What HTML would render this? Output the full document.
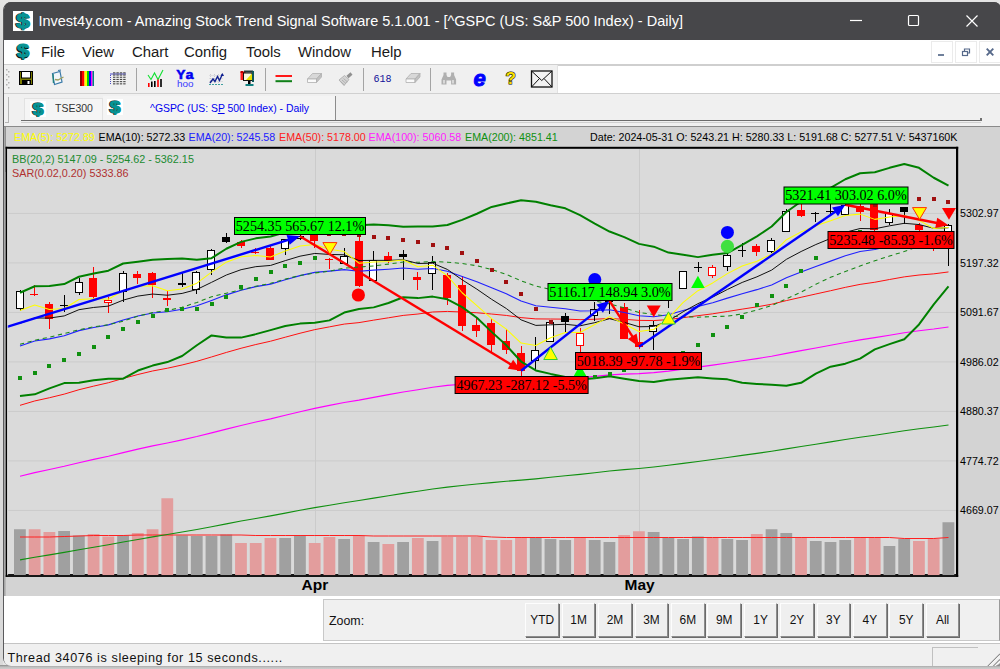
<!DOCTYPE html><html><head><meta charset="utf-8"><title>Invest4y</title><style>
*{box-sizing:border-box;margin:0;padding:0}
html,body{width:1000px;height:669px;overflow:hidden;background:#e4e4e4;font-family:"Liberation Sans",sans-serif;}
#win{position:absolute;left:3px;top:2px;width:999px;height:664px;border-radius:8px;background:#fff;overflow:hidden;border:1px solid #5b5b5d;}
#page{position:absolute;left:0;top:0;width:1000px;height:669px;overflow:hidden}
.abs{position:absolute}
.dl{position:absolute}
#title{left:4px;top:2px;width:997px;height:37.5px;background:#47474a;}
#ttxt{left:38.4px;top:10.4px;color:#fff;font-size:14.5px;white-space:nowrap;line-height:22px;letter-spacing:0px}
.menu{position:absolute;top:42.4px;font-size:14.9px;color:#1a1a1a;line-height:20px;white-space:nowrap}
.sep{position:absolute;background:#dcdcdc;height:1px;left:4px;width:996px}
.tb{position:absolute}
.vsep{position:absolute;width:1px;background:#a8a8a8}
.zb{position:absolute;top:602.6px;width:33.6px;height:34px;background:#efefef;border:1px solid;border-color:#fdfdfd #8c8c8c #8c8c8c #fdfdfd;box-shadow:1px 1px 0 #6a6a6a;font-size:11.9px;line-height:32px;text-align:center;color:#111}
</style></head><body><div id="page">
<div class="abs" style="left:0;top:0px;width:3px;height:669px;background:linear-gradient(#e4e4e4,#dadada 60px)"></div><div class="abs" style="left:0;top:665px;width:1000px;height:4px;background:linear-gradient(#8a8a8a,#c0c0c0 2px,#cdcdcd)"></div>
<div id="win"></div>
<div class="abs" id="title" style="border-radius:7px 7px 0 0"></div>
<svg class="dl" width="20" height="20" viewBox="0 0 20 20" style="left:13px;top:11px"><rect width="20" height="20" fill="#ffffff"/><g font-family='"Liberation Sans", sans-serif' font-weight="bold" font-size="20.5" text-anchor="middle"><text x="7.7" y="17.4" transform="scale(1.2,1)" fill="#061818" stroke="#061818" stroke-width="1.3">$</text><text x="8.5" y="16.9" transform="scale(1.2,1)" fill="#089494" stroke="#089494" stroke-width="0.9">$</text></g></svg>
<div class="abs" id="ttxt">Invest4y.com - Amazing Stock Trend Signal Software 5.1.001 - [^GSPC (US: S&amp;P 500 Index) - Daily]</div>
<svg class="abs" style="left:840px;top:2px" width="160" height="37" viewBox="0 0 160 37"><g stroke="#fff" stroke-width="1.2" fill="none"><line x1="10" y1="18.5" x2="22" y2="18.5"/><rect x="68.5" y="13.5" width="10" height="10" rx="1"/><path d="M126.5 13.5l11 11M137.5 13.5l-11 11"/></g></svg>
<svg class="dl" width="18" height="18" viewBox="0 0 20 20" style="left:14px;top:42px"><rect width="20" height="20" fill="#ffffff"/><g font-family='"Liberation Sans", sans-serif' font-weight="bold" font-size="20.5" text-anchor="middle"><text x="7.7" y="17.4" transform="scale(1.2,1)" fill="#061818" stroke="#061818" stroke-width="1.3">$</text><text x="8.5" y="16.9" transform="scale(1.2,1)" fill="#089494" stroke="#089494" stroke-width="0.9">$</text></g></svg>
<div class="menu" style="left:41px">File</div>
<div class="menu" style="left:82px">View</div>
<div class="menu" style="left:132px">Chart</div>
<div class="menu" style="left:184px">Config</div>
<div class="menu" style="left:246px">Tools</div>
<div class="menu" style="left:298px">Window</div>
<div class="menu" style="left:371px">Help</div>
<svg class="abs" style="left:928px;top:40px" width="72" height="24" viewBox="0 0 72 24"><g fill="#fff" stroke="#ebebeb"><rect x="3.5" y="1.5" width="21" height="21"/><rect x="27.5" y="1.5" width="21" height="21"/><rect x="51.5" y="1.5" width="21" height="21"/></g><g stroke="#56698a" stroke-width="1.7" fill="none"><line x1="10" y1="15" x2="16" y2="15"/><rect x="34.5" y="11.5" width="5" height="4" stroke-width="1.2"/><path d="M36.5 11v-2h5v4h-2" stroke-width="1.2"/><path d="M58.7 8.7l6.6 6.6M65.300 8.7l-6.6 6.6" stroke-width="1.9"/></g></svg>
<div class="sep" style="top:64px;height:1.5px;background:#cfcfcf"></div>
<div class="abs" style="left:4px;top:65px;width:554px;height:28px;background:#f0f0f0;border-right:1px solid #e2e2e2"></div>
<div class="sep" style="top:93px;background:#d0d0d0"></div>
<div class="abs" style="left:4px;top:94px;width:996px;height:33px;background:#f0f0f0"></div>
<svg class="abs" style="left:5px;top:67px" width="6" height="24"><g fill="#b0b0b0"><rect x="1" y="2" width="1.5" height="1.5"/><rect x="3" y="4" width="1.5" height="1.5"/><rect x="1" y="7" width="1.5" height="1.5"/><rect x="3" y="9" width="1.5" height="1.5"/><rect x="1" y="12" width="1.5" height="1.5"/><rect x="3" y="15" width="1.5" height="1.5"/><rect x="1" y="17" width="1.5" height="1.5"/><rect x="3" y="20" width="1.5" height="1.5"/></g></svg>

<svg class="abs" style="left:0px;top:65px" width="560" height="28" viewBox="0 65 560 28">
<!-- save (19..33, 71..85) -->
<g><rect x="19" y="71" width="14" height="14" fill="#000"/><rect x="20" y="72" width="12" height="12" fill="#7c7c00"/><rect x="21.5" y="71.5" width="9" height="6.5" fill="#fff" stroke="#000" stroke-width="1"/><rect x="22" y="80" width="9" height="5" fill="#000"/><rect x="27.5" y="81" width="2" height="3" fill="#fff"/></g>
<!-- doc (50..63) -->
<g><path d="M52.5 73.5l7.5-2 2 10.5-7.5 2.5z" fill="#f2f6fa" stroke="#3a7aa8" stroke-width="1.2"/><path d="M53 74l0.5 9" stroke="#208080" stroke-width="1.4"/><path d="M55 79.5l3 0.5 5.5-3" stroke="#a0a060" stroke-width="1.3" fill="none"/><path d="M58 70.5l3-0.5" stroke="#3a7aa8" stroke-width="1.2"/></g>
<!-- colours (80..94, 71..86) -->
<g><rect x="80" y="71" width="2" height="15" fill="#900000"/><rect x="82" y="71" width="2.5" height="15" fill="#ff0000"/><rect x="84.5" y="71" width="2.5" height="15" fill="#ffff00"/><rect x="87" y="71" width="2" height="15" fill="#00d000"/><rect x="89" y="71" width="2" height="15" fill="#0000ff"/><rect x="91" y="71" width="1.5" height="15" fill="#ff00ff"/><rect x="92.5" y="71" width="1.5" height="15" fill="#008080"/></g>
<!-- grid (110..126, 72..85) -->
<g><rect x="110" y="73.5" width="16" height="1" fill="#4848c8"/><path d="M110.5 75v10" stroke="#4848c8" stroke-dasharray="1 1"/><rect x="113.0" y="72.3" width="2.4" height="1.1" fill="#484848"/><rect x="116.4" y="72.3" width="2.4" height="1.1" fill="#484848"/><rect x="119.8" y="72.3" width="2.4" height="1.1" fill="#484848"/><rect x="123.2" y="72.3" width="2.4" height="1.1" fill="#484848"/><rect x="113.0" y="74.5" width="2.4" height="1.1" fill="#484848"/><rect x="116.4" y="74.5" width="2.4" height="1.1" fill="#484848"/><rect x="119.8" y="74.5" width="2.4" height="1.1" fill="#484848"/><rect x="123.2" y="74.5" width="2.4" height="1.1" fill="#484848"/><rect x="113.0" y="76.7" width="2.4" height="1.1" fill="#484848"/><rect x="116.4" y="76.7" width="2.4" height="1.1" fill="#484848"/><rect x="119.8" y="76.7" width="2.4" height="1.1" fill="#484848"/><rect x="123.2" y="76.7" width="2.4" height="1.1" fill="#484848"/><rect x="113.0" y="78.89999999999999" width="2.4" height="1.1" fill="#484848"/><rect x="116.4" y="78.89999999999999" width="2.4" height="1.1" fill="#484848"/><rect x="119.8" y="78.89999999999999" width="2.4" height="1.1" fill="#484848"/><rect x="123.2" y="78.89999999999999" width="2.4" height="1.1" fill="#484848"/><rect x="113.0" y="81.1" width="2.4" height="1.1" fill="#484848"/><rect x="116.4" y="81.1" width="2.4" height="1.1" fill="#484848"/><rect x="119.8" y="81.1" width="2.4" height="1.1" fill="#484848"/><rect x="123.2" y="81.1" width="2.4" height="1.1" fill="#484848"/><rect x="113.0" y="83.3" width="2.4" height="1.1" fill="#484848"/><rect x="116.4" y="83.3" width="2.4" height="1.1" fill="#484848"/><rect x="119.8" y="83.3" width="2.4" height="1.1" fill="#484848"/><rect x="123.2" y="83.3" width="2.4" height="1.1" fill="#484848"/></g>
<line x1="136.5" y1="68" x2="136.5" y2="91" stroke="#a4a4a4"/>
<!-- chart (147..163, 70..87) -->
<g><path d="M148 75l3 4.5 3.5-6.5 3.5 6.5 5-9.5" stroke="#10e030" stroke-width="1.1" fill="none"/><rect x="148" y="83" width="1.6" height="4" fill="#f00"/><rect x="151" y="81.5" width="1.6" height="5.5" fill="#000"/><rect x="154" y="81" width="1.6" height="6" fill="#000"/><rect x="157.2" y="79.5" width="1.6" height="7.5" fill="#f00"/><rect x="160.2" y="79" width="1.6" height="8" fill="#000"/></g>
<!-- Yahoo -->
<g fill="#0000f0"><text x="176.5" y="79" font-family='"Liberation Mono", monospace' font-size="12.5" font-weight="bold" textLength="17.5" lengthAdjust="spacingAndGlyphs" stroke="#0000f0" stroke-width="0.5">Ya</text><text x="177" y="87" font-family='"Liberation Sans", sans-serif' font-size="9.5" fill="#3838ff" textLength="16.5" lengthAdjust="spacingAndGlyphs">hoo</text></g>
<!-- mini chart (209..224, 73..85) -->
<g><path d="M209.5 75.5h13M209.5 78.5h13M209.5 81.5h13M210.5 74v10M214.5 74v10M218.5 74v10" stroke="#c0c0c8" stroke-width="0.8" stroke-dasharray="1 1"/><path d="M209 84.5h15" stroke="#40a0a0" stroke-dasharray="2 1"/><path d="M210 83l3-4 2 2.5 2.5-5 2 4 3-6.5" stroke="#102090" stroke-width="1.4" fill="none"/><path d="M220.5 76l2-3 1.5 3z" fill="#102090"/></g>
<!-- monitor (240..254, 70..86.5) -->
<g><rect x="240.5" y="72" width="5" height="8" fill="#ff2020"/><rect x="240.5" y="71" width="3" height="2" fill="#c00000"/><rect x="244" y="70.5" width="9" height="2" fill="#203838"/><rect x="243.5" y="73" width="8.5" height="7.5" fill="#f8f8e0" stroke="#000" stroke-width="0.9"/><path d="M246 80l6-6.5v6.5z" fill="#e8e000"/><rect x="252" y="71" width="2" height="11" fill="#105858"/><rect x="248" y="81" width="2.5" height="3" fill="#000"/><rect x="245.5" y="84" width="8" height="2" fill="#108080"/></g>
<line x1="265.5" y1="68" x2="265.5" y2="91" stroke="#a4a4a4"/>
<!-- lines -->
<g><rect x="275.5" y="75" width="16.5" height="2" fill="#ff1818"/><rect x="275.5" y="80.2" width="16.5" height="2" fill="#108018"/></g>
<!-- eraser (307..321.6, 72.4..82.8) -->
<g id="er"><path d="M307.5 79l5-5.5h9l-5 5.5z" fill="#d8d8d8" stroke="#b0b0b0" stroke-width="0.8"/><path d="M307.5 79v3.5h9v-3.5z" fill="#fafafa" stroke="#b0b0b0" stroke-width="0.8"/><path d="M316.5 82.5l5-5.5v-3.5l-5 5.5z" fill="#c0c0c0" stroke="#b0b0b0" stroke-width="0.8"/></g>
<!-- brush (338..353.6, 72.4..86) -->
<g><path d="M339 80l5.5-4.5 4.5 4-5 6z" fill="#d4d4d4" stroke="#a8a8a8" stroke-width="0.8"/><path d="M340.5 81.5l4 3.5M342 80l4 3.5M343.5 78.5l4 3.5" stroke="#a0a0a0" stroke-width="0.7"/><path d="M347.5 77l4-3.5" stroke="#909090" stroke-width="3"/></g>
<line x1="363.5" y1="68" x2="363.5" y2="91" stroke="#a4a4a4"/>
<text x="373.5" y="82.3" font-family='"Liberation Mono", monospace' font-size="10" fill="#101098">618</text>
<use href="#er" x="98.5" y="0"/>
<line x1="430.5" y1="68" x2="430.5" y2="91" stroke="#a4a4a4"/>
<!-- binoculars (441..456.4, 72.4..84.4) -->
<g fill="#b0b0b0"><path d="M441.5 84.5v-5l2-4.5v-2.5h3v2.5l1 2h2.6l1-2v-2.5h3v2.5l2 4.5v5h-5v-4h-4.6v4z"/></g><g fill="#d8d8d8"><rect x="443" y="80" width="2" height="3.5"/><rect x="452" y="80" width="2" height="3.5"/></g>
<!-- e -->
<text x="473.5" y="85.5" font-family='"Liberation Sans", sans-serif' font-weight="bold" font-style="italic" font-size="22" fill="#0000ff" stroke="#0000ff" stroke-width="1">e</text>
<!-- ? -->
<text x="505.5" y="84.3" font-family='"Liberation Sans", sans-serif' font-weight="bold" font-size="17" fill="#f8e000" stroke="#000" stroke-width="1.1" paint-order="stroke">?</text>
<!-- envelope (530.8..552.4, 70.3..87.6) -->
<g><rect x="531.5" y="71" width="20.5" height="16" fill="#f2f2f2" stroke="#111" stroke-width="1.3"/><path d="M531.5 71l10.250 9.5 10.250-9.5M531.5 87l8-8.5M552 87l-8-8.5" stroke="#111" fill="none" stroke-width="1"/></g>
</svg>

<div class="abs" style="left:5px;top:97px;width:4px;height:26px;border-right:1px solid #b4b4b4;border-bottom:1px solid #b4b4b4"></div>
<div class="abs" style="left:21px;top:120.3px;width:960px;height:1.2px;background:#6c6c6c"></div><div class="abs" style="left:21px;top:121.5px;width:960px;height:1px;background:#cfcfcf"></div>
<div class="abs" style="left:980px;top:118px;width:1.5px;height:3px;background:#707070"></div>
<div class="abs" style="left:24px;top:98px;width:79px;height:22px;background:#f5f5f5;border:1px solid #e2e2e2;border-bottom:none"></div>
<div class="abs" style="left:103px;top:96px;width:232.5px;height:24px;background:#f4f4f4;border-right:1.5px solid #8c8c8c"></div>
<svg class="dl" width="16" height="16" viewBox="0 0 20 20" style="left:30px;top:101px"><rect width="20" height="20" fill="#ffffff"/><g font-family='"Liberation Sans", sans-serif' font-weight="bold" font-size="20.5" text-anchor="middle"><text x="7.7" y="17.4" transform="scale(1.2,1)" fill="#061818" stroke="#061818" stroke-width="1.3">$</text><text x="8.5" y="16.9" transform="scale(1.2,1)" fill="#089494" stroke="#089494" stroke-width="0.9">$</text></g></svg>
<div class="abs" style="left:54.5px;top:100.8px;font-size:11.8px;line-height:14px;color:#333;white-space:nowrap;transform:scaleX(0.89);transform-origin:0 0">TSE300</div>
<svg class="dl" width="16" height="16" viewBox="0 0 20 20" style="left:107px;top:99px"><rect width="20" height="20" fill="#ffffff"/><g font-family='"Liberation Sans", sans-serif' font-weight="bold" font-size="20.5" text-anchor="middle"><text x="7.7" y="17.4" transform="scale(1.2,1)" fill="#061818" stroke="#061818" stroke-width="1.3">$</text><text x="8.5" y="16.9" transform="scale(1.2,1)" fill="#089494" stroke="#089494" stroke-width="0.9">$</text></g></svg>
<div class="abs" style="left:149.5px;top:101px;font-size:11.6px;line-height:14px;color:#0000f0;white-space:nowrap;transform:scaleX(0.897);transform-origin:0 0">^GSPC (US: S<u>P</u> 500 Index) - Daily</div>
<div class="abs" style="left:4px;top:126px;width:996px;height:1.5px;background:#8a8a8a"></div>
<div class="abs" style="left:4px;top:127px;width:996px;height:469px;background:#d3d3d3"></div>
<div class="abs" style="left:4px;top:127px;width:1.5px;height:45px;background:#707070"></div>
<svg class="abs" style="left:0;top:0" width="1000" height="669" viewBox="0 0 1000 669"><rect x="6" y="147" width="952" height="430" fill="#dadada"/>
<line x1="8" x2="956" y1="213.4" y2="213.4" stroke="#cbcbcb" stroke-width="1"/>
<line x1="8" x2="956" y1="262.9" y2="262.9" stroke="#cbcbcb" stroke-width="1"/>
<line x1="8" x2="956" y1="312.4" y2="312.4" stroke="#cbcbcb" stroke-width="1"/>
<line x1="8" x2="956" y1="361.9" y2="361.9" stroke="#cbcbcb" stroke-width="1"/>
<line x1="8" x2="956" y1="411.4" y2="411.4" stroke="#cbcbcb" stroke-width="1"/>
<line x1="8" x2="956" y1="460.9" y2="460.9" stroke="#cbcbcb" stroke-width="1"/>
<line x1="8" x2="956" y1="510.4" y2="510.4" stroke="#cbcbcb" stroke-width="1"/>
<line x1="315.5" x2="315.5" y1="149" y2="575" stroke="#cbcbcb" stroke-width="1"/>
<line x1="639.5" x2="639.5" y1="149" y2="575" stroke="#cbcbcb" stroke-width="1"/>
<rect x="7" y="574.1" width="950" height="1.4" fill="#000"/>
<rect x="14" y="529.25" width="11.8" height="46.05" fill="#a0a0a0"/>
<rect x="28.74" y="529.25" width="11.8" height="46.05" fill="#e39d9d"/>
<rect x="43.48" y="532" width="11.8" height="43.3" fill="#e39d9d"/>
<rect x="58.21" y="531" width="11.8" height="44.3" fill="#a0a0a0"/>
<rect x="72.95" y="535.5" width="11.8" height="39.8" fill="#a0a0a0"/>
<rect x="87.69" y="534" width="11.8" height="41.3" fill="#e39d9d"/>
<rect x="102.43" y="536.5" width="11.8" height="38.8" fill="#e39d9d"/>
<rect x="117.17" y="535.5" width="11.8" height="39.8" fill="#a0a0a0"/>
<rect x="131.9" y="533" width="11.8" height="42.3" fill="#e39d9d"/>
<rect x="146.64" y="529.25" width="11.8" height="46.05" fill="#e39d9d"/>
<rect x="161.38" y="498.25" width="11.8" height="77.05" fill="#e39d9d"/>
<rect x="176.12" y="535.5" width="11.8" height="39.8" fill="#a0a0a0"/>
<rect x="190.86" y="536" width="11.8" height="39.3" fill="#a0a0a0"/>
<rect x="205.59" y="536" width="11.8" height="39.3" fill="#a0a0a0"/>
<rect x="220.33" y="534.5" width="11.8" height="40.8" fill="#a0a0a0"/>
<rect x="235.07" y="543" width="11.8" height="32.3" fill="#e39d9d"/>
<rect x="249.81" y="543" width="11.8" height="32.3" fill="#e39d9d"/>
<rect x="264.55" y="538" width="11.8" height="37.3" fill="#e39d9d"/>
<rect x="279.28" y="538" width="11.8" height="37.3" fill="#a0a0a0"/>
<rect x="294.02" y="536" width="11.8" height="39.3" fill="#a0a0a0"/>
<rect x="308.76" y="543" width="11.8" height="32.3" fill="#e39d9d"/>
<rect x="323.5" y="537" width="11.8" height="38.3" fill="#e39d9d"/>
<rect x="338.24" y="539" width="11.8" height="36.3" fill="#a0a0a0"/>
<rect x="352.97" y="535.5" width="11.8" height="39.8" fill="#e39d9d"/>
<rect x="367.71" y="542" width="11.8" height="33.3" fill="#a0a0a0"/>
<rect x="382.45" y="544" width="11.8" height="31.3" fill="#e39d9d"/>
<rect x="397.19" y="542" width="11.8" height="33.3" fill="#a0a0a0"/>
<rect x="411.93" y="538" width="11.8" height="37.3" fill="#e39d9d"/>
<rect x="426.66" y="541" width="11.8" height="34.3" fill="#a0a0a0"/>
<rect x="441.4" y="537" width="11.8" height="38.3" fill="#e39d9d"/>
<rect x="456.14" y="537" width="11.8" height="38.3" fill="#e39d9d"/>
<rect x="470.88" y="537" width="11.8" height="38.3" fill="#e39d9d"/>
<rect x="485.62" y="540" width="11.8" height="35.3" fill="#e39d9d"/>
<rect x="500.35" y="540" width="11.8" height="35.3" fill="#e39d9d"/>
<rect x="515.09" y="538" width="11.8" height="37.3" fill="#e39d9d"/>
<rect x="529.83" y="538" width="11.8" height="37.3" fill="#a0a0a0"/>
<rect x="544.57" y="539" width="11.8" height="36.3" fill="#a0a0a0"/>
<rect x="559.31" y="540" width="11.8" height="35.3" fill="#a0a0a0"/>
<rect x="574.04" y="538" width="11.8" height="37.3" fill="#e39d9d"/>
<rect x="588.78" y="540" width="11.8" height="35.3" fill="#a0a0a0"/>
<rect x="603.52" y="542" width="11.8" height="33.3" fill="#a0a0a0"/>
<rect x="618.26" y="535" width="11.8" height="40.3" fill="#e39d9d"/>
<rect x="633" y="531.25" width="11.8" height="44.05" fill="#e39d9d"/>
<rect x="647.73" y="532" width="11.8" height="43.3" fill="#a0a0a0"/>
<rect x="662.47" y="538" width="11.8" height="37.3" fill="#a0a0a0"/>
<rect x="677.21" y="539" width="11.8" height="36.3" fill="#a0a0a0"/>
<rect x="691.95" y="536.5" width="11.8" height="38.8" fill="#a0a0a0"/>
<rect x="706.69" y="538" width="11.8" height="37.3" fill="#e39d9d"/>
<rect x="721.42" y="539" width="11.8" height="36.3" fill="#a0a0a0"/>
<rect x="736.16" y="540" width="11.8" height="35.3" fill="#a0a0a0"/>
<rect x="750.9" y="534" width="11.8" height="41.3" fill="#e39d9d"/>
<rect x="765.64" y="529.25" width="11.8" height="46.05" fill="#a0a0a0"/>
<rect x="780.38" y="533" width="11.8" height="42.3" fill="#a0a0a0"/>
<rect x="795.11" y="538" width="11.8" height="37.3" fill="#e39d9d"/>
<rect x="809.85" y="541" width="11.8" height="34.3" fill="#a0a0a0"/>
<rect x="824.59" y="542" width="11.8" height="33.3" fill="#a0a0a0"/>
<rect x="839.33" y="540" width="11.8" height="35.3" fill="#a0a0a0"/>
<rect x="854.07" y="538" width="11.8" height="37.3" fill="#e39d9d"/>
<rect x="868.8" y="538" width="11.8" height="37.3" fill="#e39d9d"/>
<rect x="883.54" y="546" width="11.8" height="29.3" fill="#a0a0a0"/>
<rect x="898.28" y="539" width="11.8" height="36.3" fill="#a0a0a0"/>
<rect x="913.02" y="541" width="11.8" height="34.3" fill="#e39d9d"/>
<rect x="927.76" y="539" width="11.8" height="36.3" fill="#e39d9d"/>
<rect x="942.49" y="522.25" width="11.8" height="53.05" fill="#a0a0a0"/>
<polyline points="20,537 34.74,537 49.48,537 64.21,536.5 78.95,536 93.69,535.5 108.43,535.5 123.17,535.5 137.9,535 152.64,535 167.38,535 182.12,535 196.86,535 211.59,535 226.33,535 241.07,535 255.81,535.5 270.55,535.5 285.28,535.5 300.02,535.5 314.76,535.5 329.5,535.5 344.24,535.5 358.97,535.5 373.71,536 388.45,536 403.19,536 417.93,536 432.66,536 447.4,536 462.14,536 476.88,536 491.62,537 506.35,537.5 521.09,537.5 535.83,537.5 550.57,537.5 565.31,537.5 580.04,537.5 594.78,537.5 609.52,537.5 624.26,537.5 639,537.5 653.73,537.5 668.47,537.5 683.21,537.5 697.95,537.5 712.69,537.5 727.42,537.5 742.16,537.5 756.9,537.5 771.64,537.5 786.38,537.5 801.11,537.5 815.85,537.5 830.59,537.5 845.33,537.5 860.07,537.5 874.8,537.5 889.54,537.5 904.28,538.5 919.02,538.5 933.76,538.5 948.49,537.5" fill="none" stroke="#ff2020" stroke-width="1" stroke-linejoin="round" />
<polyline points="20,559.91 34.74,557.26 49.48,554.88 64.21,552.41 78.95,549.72 93.69,547.2 108.43,544.75 123.17,542.04 137.9,539.42 152.64,536.88 167.38,534.53 182.12,532.05 196.86,529.46 211.59,526.68 226.33,523.85 241.07,521.08 255.81,518.42 270.55,515.84 285.28,513.09 300.02,510.33 314.76,507.65 329.5,505.18 344.24,502.7 358.97,500.55 373.71,498.15 388.45,495.79 403.19,493.41 417.93,491.29 432.66,489.01 447.4,487.1 462.14,485.5 476.88,483.97 491.62,482.59 506.35,481.27 521.09,480.17 535.83,478.88 550.57,477.32 565.31,475.77 580.04,474.35 594.78,472.7 609.52,470.99 624.26,469.67 639,468.45 653.73,467.02 668.47,465.32 683.21,463.38 697.95,461.43 712.69,459.5 727.42,457.47 742.16,455.41 756.9,453.38 771.64,451.26 786.38,448.87 801.11,446.55 815.85,444.23 830.59,441.91 845.33,439.55 860.07,437.28 874.8,435.22 889.54,433 904.28,430.8 919.02,428.81 933.76,426.98 948.49,424.97" fill="none" stroke="#109010" stroke-width="1.1" stroke-linejoin="round" />
<polyline points="20,476.23 34.74,472.62 49.48,469.57 64.21,466.33 78.95,462.68 93.69,459.4 108.43,456.25 123.17,452.62 137.9,449.16 152.64,445.91 167.38,443.03 182.12,439.91 196.86,436.58 211.59,432.89 226.33,429.11 241.07,425.48 255.81,422.06 270.55,418.85 285.28,415.29 300.02,411.74 314.76,408.36 329.5,405.41 344.24,402.45 358.97,400.15 373.71,397.37 388.45,394.66 403.19,391.93 417.93,389.72 432.66,387.19 447.4,385.42 462.14,384.25 476.88,383.2 491.62,382.44 506.35,381.8 521.09,381.58 535.83,380.96 550.57,379.8 565.31,378.65 580.04,377.74 594.78,376.37 609.52,374.88 624.26,374.16 639,373.62 653.73,372.66 668.47,371.13 683.21,369.14 697.95,367.13 712.69,365.15 727.42,362.97 742.16,360.76 756.9,358.59 771.64,356.24 786.38,353.36 801.11,350.65 815.85,347.93 830.59,345.22 845.33,342.43 860.07,339.84 874.8,337.66 889.54,335.19 904.28,332.75 919.02,330.72 933.76,329.02 948.49,326.97" fill="none" stroke="#ff00ff" stroke-width="1.1" stroke-linejoin="round" />
<polyline points="20,405.33 34.74,400.96 49.48,397.73 64.21,394.14 78.95,389.73 93.69,386.11 108.43,382.73 123.17,378.44 137.9,374.5 152.64,370.98 167.38,368.22 182.12,364.97 196.86,361.31 211.59,356.95 226.33,352.45 241.07,348.26 255.81,344.53 270.55,341.21 285.28,337.2 300.02,333.24 314.76,329.63 329.5,326.85 344.24,324.09 358.97,322.61 373.71,320.14 388.45,317.8 403.19,315.41 417.93,314.03 432.66,311.99 447.4,311.43 462.14,312.01 476.88,312.77 491.62,314.03 506.35,315.44 521.09,317.61 535.83,318.9 550.57,319.03 565.31,319.14 580.04,319.67 594.78,319.23 609.52,318.51 624.26,319.3 639,320.38 653.73,320.57 668.47,319.59 683.21,317.67 697.95,315.7 712.69,313.8 727.42,311.5 742.16,309.13 756.9,306.87 771.64,304.24 786.38,300.58 801.11,297.27 815.85,293.98 830.59,290.72 845.33,287.35 860.07,284.38 874.8,282.24 889.54,279.51 904.28,276.86 919.02,275.03 933.76,273.85 948.49,271.95" fill="none" stroke="#ff1010" stroke-width="1.0" stroke-linejoin="round" />
<g shape-rendering="crispEdges">
<rect x="20" y="290" width="1" height="21" fill="#000000"/>
<rect x="16.5" y="291.5" width="7" height="17" fill="#ffffff" stroke="#000000" stroke-width="1"/>
<rect x="34" y="285" width="1" height="11" fill="#ff0000"/>
<rect x="30" y="294" width="8" height="1" fill="#ff0000"/>
<rect x="49" y="302" width="1" height="27" fill="#ff0000"/>
<rect x="45" y="304" width="8" height="15" fill="#ff0000"/>
<rect x="64" y="295" width="1" height="17" fill="#000000"/>
<rect x="60" y="305" width="8" height="1" fill="#000000"/>
<rect x="79" y="278" width="1" height="17" fill="#000000"/>
<rect x="75.5" y="282.5" width="7" height="10" fill="#ffffff" stroke="#000000" stroke-width="1"/>
<rect x="93" y="267" width="1" height="33" fill="#ff0000"/>
<rect x="89" y="278" width="8" height="19" fill="#ff0000"/>
<rect x="108" y="297" width="1" height="16" fill="#ff0000"/>
<rect x="104.5" y="300.5" width="7" height="2" fill="#ffffff" stroke="#ff0000" stroke-width="1"/>
<rect x="123" y="271" width="1" height="31" fill="#000000"/>
<rect x="119.5" y="273.5" width="7" height="18" fill="#ffffff" stroke="#000000" stroke-width="1"/>
<rect x="137" y="271" width="1" height="13" fill="#ff0000"/>
<rect x="133" y="274" width="8" height="4" fill="#ff0000"/>
<rect x="152" y="272" width="1" height="26" fill="#ff0000"/>
<rect x="148" y="273" width="8" height="12" fill="#ff0000"/>
<rect x="167" y="291" width="1" height="15" fill="#ff0000"/>
<rect x="163" y="298" width="8" height="2" fill="#ff0000"/>
<rect x="182" y="273" width="1" height="14" fill="#000000"/>
<rect x="178" y="283" width="8" height="2" fill="#000000"/>
<rect x="196" y="271" width="1" height="23" fill="#000000"/>
<rect x="192.5" y="272.5" width="7" height="17" fill="#ffffff" stroke="#000000" stroke-width="1"/>
<rect x="211" y="249" width="1" height="26" fill="#000000"/>
<rect x="207.5" y="250.5" width="7" height="19" fill="#ffffff" stroke="#000000" stroke-width="1"/>
<rect x="226" y="233" width="1" height="10" fill="#000000"/>
<rect x="222" y="237" width="8" height="5" fill="#000000"/>
<rect x="241" y="240" width="1" height="8" fill="#ff0000"/>
<rect x="237" y="242" width="8" height="4" fill="#ff0000"/>
<rect x="255" y="248" width="1" height="6" fill="#ff0000"/>
<rect x="251" y="252" width="8" height="1" fill="#ff0000"/>
<rect x="270" y="245" width="1" height="15" fill="#ff0000"/>
<rect x="266" y="248" width="8" height="12" fill="#ff0000"/>
<rect x="285" y="239" width="1" height="16" fill="#000000"/>
<rect x="281.5" y="239.5" width="7" height="9" fill="#ffffff" stroke="#000000" stroke-width="1"/>
<rect x="300" y="231" width="1" height="9" fill="#000000"/>
<rect x="296.5" y="236.5" width="7" height="2" fill="#ffffff" stroke="#000000" stroke-width="1"/>
<rect x="314" y="232" width="1" height="16" fill="#ff0000"/>
<rect x="310" y="234" width="8" height="7" fill="#ff0000"/>
<rect x="329" y="258" width="1" height="11" fill="#ff0000"/>
<rect x="325" y="259" width="8" height="1" fill="#ff0000"/>
<rect x="344" y="248" width="1" height="16" fill="#000000"/>
<rect x="340.5" y="256.5" width="7" height="7" fill="#ffffff" stroke="#000000" stroke-width="1"/>
<rect x="359" y="235" width="1" height="52" fill="#ff0000"/>
<rect x="355" y="241" width="8" height="45" fill="#ff0000"/>
<rect x="373" y="251" width="1" height="31" fill="#000000"/>
<rect x="369.5" y="260.5" width="7" height="20" fill="#ffffff" stroke="#000000" stroke-width="1"/>
<rect x="388" y="252" width="1" height="11" fill="#ff0000"/>
<rect x="384" y="256" width="8" height="5" fill="#ff0000"/>
<rect x="403" y="250" width="1" height="30" fill="#000000"/>
<rect x="399" y="254" width="8" height="3" fill="#000000"/>
<rect x="417" y="272" width="1" height="18" fill="#ff0000"/>
<rect x="413" y="277" width="8" height="3" fill="#ff0000"/>
<rect x="432" y="256" width="1" height="34" fill="#000000"/>
<rect x="428.5" y="262.5" width="7" height="11" fill="#ffffff" stroke="#000000" stroke-width="1"/>
<rect x="447" y="273" width="1" height="32" fill="#ff0000"/>
<rect x="443" y="275" width="8" height="23" fill="#ff0000"/>
<rect x="462" y="276" width="1" height="55" fill="#ff0000"/>
<rect x="458" y="285" width="8" height="41" fill="#ff0000"/>
<rect x="476" y="318" width="1" height="19" fill="#ff0000"/>
<rect x="472" y="325" width="8" height="6" fill="#ff0000"/>
<rect x="491" y="319" width="1" height="33" fill="#ff0000"/>
<rect x="487" y="323" width="8" height="22" fill="#ff0000"/>
<rect x="506" y="329" width="1" height="25" fill="#ff0000"/>
<rect x="502" y="341" width="8" height="9" fill="#ff0000"/>
<rect x="521" y="346" width="1" height="31" fill="#ff0000"/>
<rect x="517" y="353" width="8" height="18" fill="#ff0000"/>
<rect x="535" y="337" width="1" height="33" fill="#000000"/>
<rect x="531.5" y="350.5" width="7" height="10" fill="#ffffff" stroke="#000000" stroke-width="1"/>
<rect x="550" y="320" width="1" height="22" fill="#000000"/>
<rect x="546.5" y="322.5" width="7" height="19" fill="#ffffff" stroke="#000000" stroke-width="1"/>
<rect x="565" y="313" width="1" height="20" fill="#000000"/>
<rect x="561" y="316" width="8" height="6" fill="#000000"/>
<rect x="580" y="328" width="1" height="32" fill="#ff0000"/>
<rect x="576.5" y="333.5" width="7" height="12" fill="#ffffff" stroke="#ff0000" stroke-width="1"/>
<rect x="594" y="302" width="1" height="19" fill="#000000"/>
<rect x="590.5" y="309.5" width="7" height="6" fill="#ffffff" stroke="#000000" stroke-width="1"/>
<rect x="609" y="297" width="1" height="17" fill="#000000"/>
<rect x="605" y="301" width="8" height="1" fill="#000000"/>
<rect x="624" y="303" width="1" height="36" fill="#ff0000"/>
<rect x="620" y="307" width="8" height="32" fill="#ff0000"/>
<rect x="639" y="310" width="1" height="39" fill="#ff0000"/>
<rect x="635" y="342" width="8" height="5" fill="#ff0000"/>
<rect x="653" y="321" width="1" height="29" fill="#000000"/>
<rect x="649.5" y="325.5" width="7" height="6" fill="#ffffff" stroke="#000000" stroke-width="1"/>
<rect x="668" y="290" width="1" height="18" fill="#000000"/>
<rect x="664.5" y="295.5" width="7" height="2" fill="#ffffff" stroke="#000000" stroke-width="1"/>
<rect x="683" y="271" width="1" height="18" fill="#000000"/>
<rect x="679.5" y="271.5" width="7" height="17" fill="#ffffff" stroke="#000000" stroke-width="1"/>
<rect x="698" y="262" width="1" height="10" fill="#000000"/>
<rect x="694" y="267" width="8" height="1" fill="#000000"/>
<rect x="712" y="265" width="1" height="13" fill="#ff0000"/>
<rect x="708.5" y="267.5" width="7" height="8" fill="#ffffff" stroke="#ff0000" stroke-width="1"/>
<rect x="727" y="254" width="1" height="17" fill="#000000"/>
<rect x="723.5" y="255.5" width="7" height="11" fill="#ffffff" stroke="#000000" stroke-width="1"/>
<rect x="742" y="243" width="1" height="14" fill="#000000"/>
<rect x="738" y="250" width="8" height="1" fill="#000000"/>
<rect x="756" y="244" width="1" height="12" fill="#ff0000"/>
<rect x="752" y="246" width="8" height="6" fill="#ff0000"/>
<rect x="771" y="238" width="1" height="15" fill="#000000"/>
<rect x="767.5" y="240.5" width="7" height="11" fill="#ffffff" stroke="#000000" stroke-width="1"/>
<rect x="786" y="209" width="1" height="23" fill="#000000"/>
<rect x="782.5" y="211.5" width="7" height="20" fill="#ffffff" stroke="#000000" stroke-width="1"/>
<rect x="801" y="203" width="1" height="14" fill="#ff0000"/>
<rect x="797" y="210" width="8" height="6" fill="#ff0000"/>
<rect x="815" y="212" width="1" height="10" fill="#000000"/>
<rect x="811" y="213" width="8" height="1" fill="#000000"/>
<rect x="830" y="203" width="1" height="11" fill="#000000"/>
<rect x="826" y="211" width="8" height="1" fill="#000000"/>
<rect x="845" y="203" width="1" height="13" fill="#000000"/>
<rect x="841.5" y="205.5" width="7" height="9" fill="#ffffff" stroke="#000000" stroke-width="1"/>
<rect x="860" y="204" width="1" height="17" fill="#ff0000"/>
<rect x="856" y="206" width="8" height="6" fill="#ff0000"/>
<rect x="874" y="195" width="1" height="40" fill="#ff0000"/>
<rect x="870" y="196" width="8" height="34" fill="#ff0000"/>
<rect x="889" y="209" width="1" height="16" fill="#000000"/>
<rect x="885.5" y="213.5" width="7" height="9" fill="#ffffff" stroke="#000000" stroke-width="1"/>
<rect x="904" y="207" width="1" height="17" fill="#000000"/>
<rect x="900" y="207" width="8" height="5" fill="#000000"/>
<rect x="919" y="223" width="1" height="9" fill="#ff0000"/>
<rect x="915" y="225" width="8" height="5" fill="#ff0000"/>
<rect x="933" y="233" width="1" height="18" fill="#ff0000"/>
<rect x="929" y="234" width="8" height="11" fill="#ff0000"/>
<rect x="948" y="224" width="1" height="42" fill="#000000"/>
<rect x="944.5" y="225.5" width="7" height="15" fill="#ffffff" stroke="#000000" stroke-width="1"/>
</g>
<polyline points="20,292.75 34.74,286.28 49.48,285.91 64.21,284.11 78.95,276.74 93.69,273.47 108.43,270.65 123.17,263.52 137.9,261.73 152.64,259.68 167.38,259.1 182.12,258.46 196.86,259.7 211.59,258.14 226.33,248.74 241.07,241.86 255.81,238.36 270.55,236.56 285.28,232.21 300.02,227.24 314.76,223.1 329.5,221.97 344.24,223.58 358.97,225.23 373.71,224.57 388.45,225.28 403.19,226.73 417.93,226.51 432.66,226.44 447.4,225.01 462.14,219.82 476.88,213.72 491.62,206.96 506.35,203.49 521.09,200.15 535.83,201.69 550.57,205.17 565.31,208.29 580.04,215.04 594.78,223.51 609.52,231.51 624.26,237.08 639,243.86 653.73,246.67 668.47,252.59 683.21,254.74 697.95,257.12 712.69,254.7 727.42,253.04 742.16,244.97 756.9,236.41 771.64,226.48 786.38,211.95 801.11,201.52 815.85,194.96 830.59,187.94 845.33,179.25 860.07,173.25 874.8,172.17 889.54,167.84 904.28,163.93 919.02,167.81 933.76,177.75 948.49,185.67" fill="none" stroke="#008000" stroke-width="2.0" stroke-linejoin="round" />
<polyline points="20,395.92 34.74,394.32 49.48,388.33 64.21,383.07 78.95,382.84 93.69,380.22 108.43,378.76 123.17,378.7 137.9,370.55 152.64,365.58 167.38,362.07 182.12,355.97 196.86,345.21 211.59,335.39 226.33,337.56 241.07,337.62 255.81,334.15 270.55,330.09 285.28,326.05 300.02,323.62 314.76,322.76 329.5,320.38 344.24,312.55 358.97,308.91 373.71,307.38 388.45,302.98 403.19,297.22 417.93,298.12 432.66,296.61 447.4,299.3 462.14,307.09 476.88,317.78 491.62,331.87 506.35,345.33 521.09,361.53 535.83,370.46 550.57,373.9 565.31,376.96 580.04,379.59 594.78,378.35 609.52,376.33 624.26,378.73 639,381 653.73,382.08 668.47,379.75 683.21,378.61 697.95,377.27 712.69,378.42 727.42,379.37 742.16,382.79 756.9,383.88 771.64,384.66 786.38,385.79 801.11,382.83 815.85,373.64 830.59,366.71 845.33,363.65 860.07,358.62 874.8,349.43 889.54,344.16 904.28,339.18 919.02,324.46 933.76,304.35 948.49,286.43" fill="none" stroke="#008000" stroke-width="2.0" stroke-linejoin="round" />
<polyline points="20,346.01 34.74,341.06 49.48,338.91 64.21,335.8 78.95,330.64 93.69,327.47 108.43,324.87 123.17,319.95 137.9,315.94 152.64,312.98 167.38,311.79 182.12,309.27 196.86,305.7 211.59,300.4 226.33,294.86 241.07,290.17 255.81,286.64 270.55,284.1 285.28,279.8 300.02,275.64 314.76,272.36 329.5,271.08 344.24,269.67 358.97,271.26 373.71,270.15 388.45,269.23 403.19,268.07 417.93,269.21 432.66,268.53 447.4,271.29 462.14,276.54 476.88,281.75 491.62,287.77 506.35,293.71 521.09,301.04 535.83,305.74 550.57,307.32 565.31,308.7 580.04,310.98 594.78,310.75 609.52,309.81 624.26,312.55 639,315.81 653.73,316.71 668.47,314.69 683.21,310.5 697.95,306.39 712.69,302.68 727.42,298.14 742.16,293.66 756.9,289.65 771.64,284.9 786.38,277.86 801.11,271.98 815.85,266.39 830.59,261.11 845.33,255.75 860.07,251.53 874.8,249.47 889.54,245.95 904.28,242.72 919.02,241.53 933.76,241.86 948.49,240.29" fill="none" stroke="#2020ff" stroke-width="1.1" stroke-linejoin="round" />
<polyline points="20,344.34 34.74,340.3 49.48,337.12 64.21,333.59 78.95,329.79 93.69,326.84 108.43,324.7 123.17,321.11 137.9,316.14 152.64,312.63 167.38,310.58 182.12,307.21 196.86,302.46 211.59,296.77 226.33,293.15 241.07,289.74 255.81,286.26 270.55,283.32 285.28,279.13 300.02,275.43 314.76,272.93 329.5,271.18 344.24,268.07 358.97,267.07 373.71,265.97 388.45,264.13 403.19,261.97 417.93,262.32 432.66,261.52 447.4,262.16 462.14,263.45 476.88,265.75 491.62,269.41 506.35,274.41 521.09,280.84 535.83,286.08 550.57,289.54 565.31,292.63 580.04,297.31 594.78,300.93 609.52,303.92 624.26,307.91 639,312.43 653.73,314.37 668.47,316.17 683.21,316.67 697.95,317.19 712.69,316.56 727.42,316.21 742.16,313.88 756.9,310.14 771.64,305.57 786.38,298.87 801.11,292.17 815.85,284.3 830.59,277.33 845.33,271.45 860.07,265.94 874.8,260.8 889.54,256 904.28,251.55 919.02,246.14 933.76,241.05 948.49,236.05" fill="none" stroke="#188818" stroke-width="1.05" stroke-linejoin="round" stroke-dasharray="4.2 3.6"/>
<polyline points="20,323.3 34.74,317.98 49.48,318.07 64.21,315.92 78.95,309.69 93.69,307.45 108.43,306.11 123.17,300.14 137.9,296.09 152.64,294.05 167.38,295.22 182.12,293.42 196.86,289.48 211.59,282.32 226.33,275.02 241.07,269.68 255.81,266.67 270.55,265.45 285.28,260.63 300.02,256.18 314.76,253.45 329.5,254.44 344.24,254.77 358.97,260.52 373.71,260.35 388.45,260.38 403.19,259.77 417.93,263.46 432.66,263.21 447.4,269.45 462.14,279.8 476.88,289.16 491.62,299.3 506.35,308.55 521.09,319.85 535.83,325.4 550.57,324.84 565.31,324.28 580.04,325.81 594.78,322.66 609.52,318.71 624.26,322.33 639,326.77 653.73,326.5 668.47,320.86 683.21,311.73 697.95,303.67 712.69,297.08 727.42,289.44 742.16,282.45 756.9,276.84 771.64,270.1 786.38,259.35 801.11,251.5 815.85,244.54 830.59,238.44 845.33,232.32 860.07,228.53 874.8,228.77 889.54,225.83 904.28,223.31 919.02,224.57 933.76,228.29 948.49,227.75" fill="none" stroke="#101010" stroke-width="1.0" stroke-linejoin="round" />
<polyline points="20,310.56 34.74,305.04 49.48,309.53 64.21,308.44 78.95,299.5 93.69,298.8 108.43,299.23 123.17,290.56 137.9,286.34 152.64,285.84 167.38,290.73 182.12,288.93 196.86,283.19 211.59,272.16 226.33,262.17 241.07,256.66 255.81,255.48 270.55,256.97 285.28,250.96 300.02,246.03 314.76,244.4 329.5,249.24 344.24,251.58 358.97,263.18 373.71,261.99 388.45,261.5 403.19,260 417.93,266.7 432.66,265.16 447.4,275.95 462.14,292.76 476.88,305.59 491.62,318.71 506.35,329.19 521.09,343.03 535.83,345.48 550.57,337.75 565.31,332.43 580.04,332.51 594.78,324.51 609.52,316.65 624.26,323.97 639,331.56 653.73,329.46 668.47,318.14 683.21,302.31 697.95,290.68 712.69,282.92 727.42,273.63 742.16,266.09 756.9,261.26 771.64,254.1 786.38,239.72 801.11,231.87 815.85,225.66 830.59,220.77 845.33,215.43 860.07,214.12 874.8,219.37 889.54,217.1 904.28,215.39 919.02,220.35 933.76,228.57 948.49,227.49" fill="none" stroke="#ffff00" stroke-width="1.05" stroke-linejoin="round" />
<g shape-rendering="crispEdges">
<rect x="18" y="376" width="4" height="4" fill="#109010"/>
<rect x="33" y="371" width="4" height="4" fill="#109010"/>
<rect x="47" y="364" width="4" height="4" fill="#109010"/>
<rect x="62" y="358" width="4" height="4" fill="#109010"/>
<rect x="77" y="352" width="4" height="4" fill="#109010"/>
<rect x="92" y="345" width="4" height="4" fill="#109010"/>
<rect x="106" y="335" width="4" height="4" fill="#109010"/>
<rect x="121" y="327" width="4" height="4" fill="#109010"/>
<rect x="136" y="320" width="4" height="4" fill="#109010"/>
<rect x="151" y="314" width="4" height="4" fill="#109010"/>
<rect x="165" y="308" width="4" height="4" fill="#109010"/>
<rect x="180" y="307" width="4" height="4" fill="#109010"/>
<rect x="195" y="307" width="4" height="4" fill="#109010"/>
<rect x="210" y="302" width="4" height="4" fill="#109010"/>
<rect x="224" y="295" width="4" height="4" fill="#109010"/>
<rect x="239" y="285" width="4" height="4" fill="#109010"/>
<rect x="254" y="277" width="4" height="4" fill="#109010"/>
<rect x="269" y="270" width="4" height="4" fill="#109010"/>
<rect x="283" y="264" width="4" height="4" fill="#109010"/>
<rect x="298" y="261" width="4" height="4" fill="#109010"/>
<rect x="313" y="256" width="4" height="4" fill="#109010"/>
<rect x="327" y="232" width="4" height="4" fill="#a01010"/>
<rect x="342" y="232" width="4" height="4" fill="#a01010"/>
<rect x="357" y="233" width="4" height="4" fill="#a01010"/>
<rect x="372" y="235" width="4" height="4" fill="#a01010"/>
<rect x="386" y="236" width="4" height="4" fill="#a01010"/>
<rect x="401" y="238" width="4" height="4" fill="#a01010"/>
<rect x="416" y="240" width="4" height="4" fill="#a01010"/>
<rect x="431" y="243" width="4" height="4" fill="#a01010"/>
<rect x="445" y="246" width="4" height="4" fill="#a01010"/>
<rect x="460" y="251" width="4" height="4" fill="#a01010"/>
<rect x="475" y="259" width="4" height="4" fill="#a01010"/>
<rect x="490" y="268" width="4" height="4" fill="#a01010"/>
<rect x="504" y="280" width="4" height="4" fill="#a01010"/>
<rect x="519" y="292" width="4" height="4" fill="#a01010"/>
<rect x="534" y="307" width="4" height="4" fill="#a01010"/>
<rect x="549" y="320" width="4" height="4" fill="#a01010"/>
<rect x="563" y="378" width="4" height="4" fill="#109010"/>
<rect x="578" y="376" width="4" height="4" fill="#109010"/>
<rect x="593" y="375" width="4" height="4" fill="#109010"/>
<rect x="608" y="372" width="4" height="4" fill="#109010"/>
<rect x="622" y="368" width="4" height="4" fill="#109010"/>
<rect x="637" y="364" width="4" height="4" fill="#109010"/>
<rect x="652" y="360" width="4" height="4" fill="#109010"/>
<rect x="666" y="356" width="4" height="4" fill="#109010"/>
<rect x="681" y="351" width="4" height="4" fill="#109010"/>
<rect x="696" y="343" width="4" height="4" fill="#109010"/>
<rect x="711" y="333" width="4" height="4" fill="#109010"/>
<rect x="725" y="325" width="4" height="4" fill="#109010"/>
<rect x="740" y="315" width="4" height="4" fill="#109010"/>
<rect x="755" y="303" width="4" height="4" fill="#109010"/>
<rect x="770" y="294" width="4" height="4" fill="#109010"/>
<rect x="784" y="284" width="4" height="4" fill="#109010"/>
<rect x="799" y="269" width="4" height="4" fill="#109010"/>
<rect x="814" y="256" width="4" height="4" fill="#109010"/>
<rect x="829" y="245" width="4" height="4" fill="#109010"/>
<rect x="843" y="237" width="4" height="4" fill="#109010"/>
<rect x="858" y="230" width="4" height="4" fill="#109010"/>
<rect x="873" y="203" width="4" height="4" fill="#a01010"/>
<rect x="888" y="196" width="4" height="4" fill="#a01010"/>
<rect x="902" y="196" width="4" height="4" fill="#a01010"/>
<rect x="917" y="197" width="4" height="4" fill="#a01010"/>
<rect x="932" y="197" width="4" height="4" fill="#a01010"/>
<rect x="946" y="200" width="4" height="4" fill="#a01010"/>
</g>
<line x1="7" y1="326.88" x2="289.99" y2="239.28" stroke="#0000ff" stroke-width="2.4"/><polygon points="300.02,236.18 289.62,244.84 286.54,234.91" fill="#0000ff"/>
<line x1="300.02" y1="236.18" x2="512.12" y2="365.25" stroke="#ff0000" stroke-width="2.4"/><polygon points="521.09,370.7 507.71,368.65 513.12,359.76" fill="#ff0000"/>
<line x1="521.09" y1="370.7" x2="601.28" y2="307.43" stroke="#0000ff" stroke-width="2.4"/><polygon points="609.52,300.92 602.93,312.75 596.49,304.58" fill="#0000ff"/>
<line x1="609.52" y1="300.92" x2="633.31" y2="337.9" stroke="#ff0000" stroke-width="2.4"/><polygon points="639,346.73 627.86,339.04 636.61,333.41" fill="#ff0000"/>
<line x1="639" y1="346.73" x2="836.68" y2="210.71" stroke="#0000ff" stroke-width="2.4"/><polygon points="845.33,204.76 837.98,216.13 832.08,207.56" fill="#0000ff"/>
<line x1="845.33" y1="204.76" x2="938.2" y2="223.27" stroke="#ff0000" stroke-width="2.4"/><polygon points="948.49,225.33 935.22,227.98 937.25,217.78" fill="#ff0000"/>
<polygon points="322.9,242.6 336.9,242.6 329.9,254.4" fill="#ffff00" stroke="#ff3000" stroke-width="1"/>
<circle cx="358.37" cy="295" r="6.6" fill="#ff0000"/>
<polygon points="543.77,359.5 557.37,359.5 550.57,347.3" fill="#ffff00" stroke="#30d030" stroke-width="1"/>
<polygon points="573.24,377 586.84,377 580.04,364.8" fill="#00ff00" />
<circle cx="594.78" cy="279.5" r="6.5" fill="#0000ff"/>
<polygon points="646.73,305.4 660.73,305.4 653.73,317.2" fill="#ff0000" />
<polygon points="661.67,324 675.27,324 668.47,311.8" fill="#ffff00" stroke="#30d030" stroke-width="1"/>
<polygon points="691.15,288 704.75,288 697.95,275.8" fill="#00ff00" />
<circle cx="727.42" cy="232.4" r="6.5" fill="#0000ff"/>
<circle cx="727.42" cy="246.4" r="6.6" fill="#40e040"/>
<polygon points="912.52,207.6 926.52,207.6 919.52,219.4" fill="#ffff00" stroke="#ff3000" stroke-width="1"/>
<polygon points="941.99,208 955.99,208 948.99,219.8" fill="#ff0000" />
<rect x="234.5" y="217.5" width="131" height="17" fill="#00ff00" stroke="#000" stroke-width="1"/><text x="300" y="230.9" text-anchor="middle" font-family='"Liberation Serif", serif' font-size="15.2" fill="#000" textLength="128.4" lengthAdjust="spacingAndGlyphs">5254.35 565.67 12.1%</text>
<rect x="455.1" y="376.5" width="133" height="17" fill="#ff0000" stroke="#000" stroke-width="1"/><text x="521.6" y="389.9" text-anchor="middle" font-family='"Liberation Serif", serif' font-size="15.2" fill="#000" textLength="130.4" lengthAdjust="spacingAndGlyphs">4967.23 -287.12 -5.5%</text>
<rect x="548" y="283.5" width="124" height="17" fill="#00ff00" stroke="#000" stroke-width="1"/><text x="610" y="296.9" text-anchor="middle" font-family='"Liberation Serif", serif' font-size="15.2" fill="#000" textLength="121.4" lengthAdjust="spacingAndGlyphs">5116.17 148.94 3.0%</text>
<rect x="575.5" y="352.5" width="126" height="17" fill="#ff0000" stroke="#000" stroke-width="1"/><text x="638.5" y="365.9" text-anchor="middle" font-family='"Liberation Serif", serif' font-size="15.2" fill="#000" textLength="123.4" lengthAdjust="spacingAndGlyphs">5018.39 -97.78 -1.9%</text>
<rect x="784" y="187" width="124" height="17" fill="#00ff00" stroke="#000" stroke-width="1"/><text x="846" y="200.4" text-anchor="middle" font-family='"Liberation Serif", serif' font-size="15.2" fill="#000" textLength="121.4" lengthAdjust="spacingAndGlyphs">5321.41 303.02 6.0%</text>
<rect x="828" y="231.5" width="126" height="17" fill="#ff0000" stroke="#000" stroke-width="1"/><text x="891" y="244.9" text-anchor="middle" font-family='"Liberation Serif", serif' font-size="15.2" fill="#000" textLength="123.4" lengthAdjust="spacingAndGlyphs">5235.48 -85.93 -1.6%</text>
<rect x="4" y="127" width="1.6" height="469" fill="#a8a8a8"/>
<g fill="#000"><rect x="5.7" y="146.8" width="1.6" height="430"/><rect x="5.7" y="146.8" width="952.5" height="2"/><rect x="956" y="146.8" width="2.2" height="430"/><rect x="5.7" y="575.2" width="952.5" height="1.7"/></g>
<rect x="7.3" y="148.8" width="0.8" height="426.4" fill="#e8e8e8"/>
<text x="960" y="217.4" font-family='"Liberation Sans", sans-serif' font-size="10.7" fill="#000">5302.97</text>
<text x="960" y="266.9" font-family='"Liberation Sans", sans-serif' font-size="10.7" fill="#000">5197.32</text>
<text x="960" y="316.4" font-family='"Liberation Sans", sans-serif' font-size="10.7" fill="#000">5091.67</text>
<text x="960" y="365.9" font-family='"Liberation Sans", sans-serif' font-size="10.7" fill="#000">4986.02</text>
<text x="960" y="415.4" font-family='"Liberation Sans", sans-serif' font-size="10.7" fill="#000">4880.37</text>
<text x="960" y="464.9" font-family='"Liberation Sans", sans-serif' font-size="10.7" fill="#000">4774.72</text>
<text x="960" y="514.4" font-family='"Liberation Sans", sans-serif' font-size="10.7" fill="#000">4669.07</text>
<text x="301.5" y="589.5" font-family='"Liberation Sans", sans-serif' font-size="15.5" font-weight="bold" fill="#000">Apr</text>
<text x="624.5" y="589.5" font-family='"Liberation Sans", sans-serif' font-size="15.5" font-weight="bold" fill="#000">May</text>
<text x="14" y="140.5" font-family='"Liberation Sans", sans-serif' font-size="10.7" fill="#ffff00">EMA(5): 5272.89</text>
<text x="98.5" y="140.5" font-family='"Liberation Sans", sans-serif' font-size="10.7" fill="#000">EMA(10): 5272.33</text>
<text x="188.5" y="140.5" font-family='"Liberation Sans", sans-serif' font-size="10.7" fill="#2020ff">EMA(20): 5245.58</text>
<text x="279" y="140.5" font-family='"Liberation Sans", sans-serif' font-size="10.7" fill="#ff2020">EMA(50): 5178.00</text>
<text x="368.5" y="140.5" font-family='"Liberation Sans", sans-serif' font-size="10.7" fill="#ff20ff">EMA(100): 5060.58</text>
<text x="465" y="140.5" font-family='"Liberation Sans", sans-serif' font-size="10.7" fill="#109010">EMA(200): 4851.41</text>
<text x="590" y="140.5" font-family='"Liberation Sans", sans-serif' font-size="10.7" fill="#000">Date: 2024-05-31 O: 5243.21 H: 5280.33 L: 5191.68 C: 5277.51 V: 5437160K</text>
<text x="12" y="162.5" font-family='"Liberation Sans", sans-serif' font-size="10.8" fill="#208a30">BB(20,2) 5147.09 - 5254.62 - 5362.15</text>
<text x="12" y="176.5" font-family='"Liberation Sans", sans-serif' font-size="10.8" fill="#b03030">SAR(0.02,0.20) 5333.86</text></svg>
<div class="abs" style="left:323px;top:599px;width:677px;height:42px;background:#f0f0f0;border:1px solid #c8c8c8;border-right:1px solid #9a9a9a"></div>
<div class="abs" style="left:329px;top:613px;font-size:12.4px;line-height:16px;color:#111">Zoom:</div>
<div class="zb" style="left:525.4px">YTD</div>
<div class="zb" style="left:561.8px">1M</div>
<div class="zb" style="left:598.2px">2M</div>
<div class="zb" style="left:634.6px">3M</div>
<div class="zb" style="left:671.0px">6M</div>
<div class="zb" style="left:707.4px">9M</div>
<div class="zb" style="left:743.8px">1Y</div>
<div class="zb" style="left:780.2px">2Y</div>
<div class="zb" style="left:816.6px">3Y</div>
<div class="zb" style="left:853.0px">4Y</div>
<div class="zb" style="left:889.4px">5Y</div>
<div class="zb" style="left:925.8px">All</div>
<div class="abs" style="left:4px;top:643px;width:997px;height:23px;background:#f0f0f0;border-top:1px solid #c4c4c4;border-radius:0 0 7px 7px"></div>
<div class="abs" style="left:7.4px;top:648.5px;font-size:12.6px;letter-spacing:0.6px;line-height:18px;color:#111;white-space:nowrap" id="status">Thread 34076 is sleeping for 15 seconds......</div>
<div class="abs" style="left:932px;top:647px;width:46px;height:19px;border:1px solid #c0c0c0;border-bottom:none;border-right:none"></div>
<svg class="abs" style="left:980px;top:646px" width="20" height="20" viewBox="980 646 20 20"><g stroke="#8a8a8a" stroke-width="1.1"><path d="M987.5 666.5L1000 654M993 666.5L1000 659.5M997.6 666.5L1000 664"/></g><g stroke="#ffffff" stroke-width="1"><path d="M988.8 666.5L1000 655.3M994.3 666.5L1000 660.8"/></g></svg>
</div></body></html>
